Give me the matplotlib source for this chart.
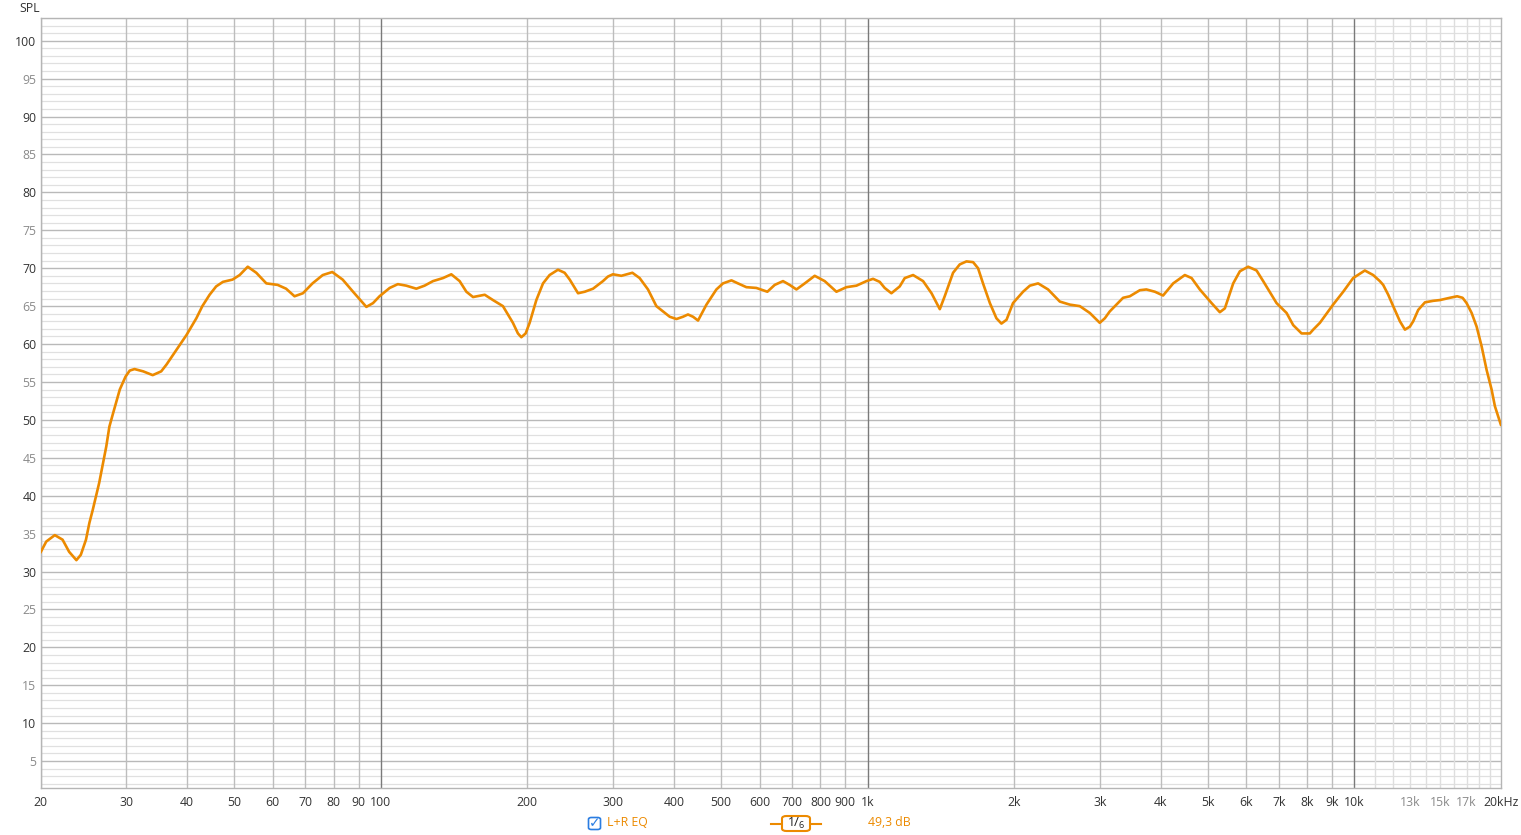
import numpy as np
import matplotlib
matplotlib.use("Agg")
import matplotlib.pyplot as plt
from matplotlib.patches import FancyBboxPatch
from matplotlib.lines import Line2D

plt.rcParams['font.family'] = ['Open Sans', 'DejaVu Sans']

# frequency response (Hz, dB SPL)
freq = [20, 20.55, 21.4, 22.2, 22.9, 23.7, 24.2, 24.8, 25.2, 25.6, 26.4, 27.3,
        27.7, 28.2, 29.1, 29.9, 30.5, 31.2, 32.5, 34.0, 35.4, 36.3, 38.0, 39.9,
        41.8, 43.0, 44.5, 45.9, 47.4, 49.6, 51.3, 53.3, 55.5, 58.2, 61.4, 63.9,
        66.5, 69.2, 72.4, 76.0, 79.5, 83.5, 87.7, 93.4, 96.4, 99.4,
        104.3, 108.4, 112.8, 118.3, 123.0, 128.0, 134.2, 139.6, 145.2, 149.9,
        154.7, 163.5, 170.0, 178.2, 186.8, 191.3, 194.4, 198.4, 202.2, 208.7,
        215.4, 222.2, 231.2, 238.6, 244.4, 254.2, 262.4, 272.9, 286.0, 292.8,
        299.8, 312.0, 324.6, 328.7, 340.2, 353.9, 368.2, 379.9, 392.2, 404.9,
        417.6, 427.6, 437.9, 448.4, 466.6, 489.1, 504.6, 525.2, 541.6, 563.6,
        590.7, 622.4, 644.4, 670.2, 691.6, 714.2, 742.8, 778.6, 816.3, 862.8,
        904.6, 948.6, 994.4, 1026, 1059, 1084, 1119, 1164, 1192, 1240, 1300,
        1353, 1407, 1440, 1498, 1546, 1596, 1647, 1686, 1726, 1783, 1839, 1883,
        1929, 1989, 2086, 2154, 2240, 2348, 2482, 2602, 2728, 2860, 2998, 3071,
        3143, 3348, 3456, 3624, 3738, 3891, 4045, 4243, 4483, 4629, 4812, 5088,
        5290, 5417, 5636, 5817, 6048, 6294, 6494, 6918, 7254, 7484, 7788, 8098,
        8228, 8493, 9040, 9483, 9938, 10504, 10926, 11276, 11456, 11733, 12010,
        12399, 12697, 12998, 13204, 13520, 13958, 14512, 14980, 15704, 16255,
        16678, 16996, 17406, 17822, 18248, 18682, 19130, 19432, 20000]
spl = [32.5, 33.95, 34.8, 34.2, 32.6, 31.5, 32.2, 34.2, 36.4, 38.1, 41.7, 46.5,
       49.1, 50.9, 54.0, 55.7, 56.5, 56.7, 56.4, 55.9, 56.4, 57.3, 59.2, 61.2,
       63.4, 65.0, 66.5, 67.6, 68.2, 68.5, 69.1, 70.2, 69.4, 68.0, 67.8, 67.3,
       66.3, 66.7, 68.0, 69.1, 69.5, 68.5, 66.9, 64.9, 65.4, 66.3,
       67.4, 67.9, 67.7, 67.3, 67.7, 68.3, 68.7, 69.2, 68.3, 66.9,
       66.2, 66.5, 65.8, 65.0, 62.8, 61.4, 60.9, 61.4, 62.8, 65.8,
       68.0, 69.1, 69.8, 69.4, 68.5, 66.7, 66.9, 67.3, 68.3, 68.9,
       69.2, 69.0, 69.3, 69.4, 68.7, 67.2, 65.0, 64.3, 63.6, 63.3,
       63.6, 63.9, 63.6, 63.1, 65.2, 67.2, 68.0, 68.4, 68.0, 67.5,
       67.4, 66.9, 67.8, 68.3, 67.8, 67.2, 68.0, 69.0, 68.3, 66.9,
       67.5, 67.7, 68.3, 68.6, 68.2, 67.4, 66.7, 67.6, 68.7, 69.1, 68.3,
       66.7, 64.6, 66.3, 69.4, 70.5, 70.9, 70.8, 70.0, 68.0, 65.4, 63.4, 62.7,
       63.2, 65.4, 66.9, 67.7, 68.0, 67.2, 65.6, 65.2, 65.0, 64.1, 62.8, 63.4,
       64.3, 66.1, 66.3, 67.1, 67.2, 66.9, 66.4, 68.0, 69.1, 68.7, 67.2, 65.4,
       64.2, 64.7, 68.0, 69.6, 70.2, 69.7, 68.3, 65.4, 64.1, 62.5, 61.4, 61.4,
       61.9, 62.8, 65.2, 66.9, 68.7, 69.7, 69.1, 68.3, 67.8, 66.5, 65.0,
       63.0, 61.9, 62.3, 63.0, 64.5, 65.5, 65.7, 65.8, 66.1, 66.3,
       66.1, 65.4, 64.1, 62.3, 59.7, 56.6, 54.0, 51.8, 49.3]

x_major = [20, 30, 40, 50, 60, 70, 80, 90, 100, 200, 300, 400, 500, 600, 700,
           800, 900, 1000, 2000, 3000, 4000, 5000, 6000, 7000, 8000, 9000, 10000]
x_labels = ['20', '30', '40', '50', '60', '70', '80', '90', '100', '200', '300',
            '400', '500', '600', '700', '800', '900', '1k', '2k', '3k', '4k',
            '5k', '6k', '7k', '8k', '9k', '10k']
x_light = [11000, 12000, 13000, 14000, 15000, 16000, 17000, 18000, 19000]
x_light_labels = {13000: '13k', 15000: '15k', 17000: '17k'}
decades = [100, 1000, 10000]

FS = 8.8
fig = plt.figure(figsize=(15.21, 8.35), dpi=100)
ax = fig.add_axes([40.5 / 1521, 47 / 835, 1460.5 / 1521, 770 / 835])
ax.set_xscale('log')
ax.set_xlim(20, 20000)
ax.set_ylim(1.45, 103.0)

# grid
for v in range(2, 104):
    if v % 5 == 0:
        ax.axhline(v, color='#b9b9b9', lw=1.0, zorder=1)
    else:
        ax.axhline(v, color='#e0e0e0', lw=0.9, zorder=0)
for f in x_major:
    c = '#7a7a7a' if f in decades else '#bdbdbd'
    ax.axvline(f, color=c, lw=1.0, zorder=1)
for f in x_light:
    ax.axvline(f, color='#dedede', lw=1.0, zorder=1)

ax.plot(freq, spl, color='#ec8a00', lw=1.9, zorder=3,
        solid_joinstyle='round', solid_capstyle='round')

for s in ax.spines.values():
    s.set_color('#b5b5b5')
    s.set_linewidth(1.0)

ax.tick_params(length=0, pad=6)
ax.xaxis.set_minor_locator(matplotlib.ticker.NullLocator())
ax.set_xticks(x_major + [20000])
ax.set_xticklabels(x_labels + [''], fontsize=FS, color='#333333')
for f, lab in x_light_labels.items():
    ax.text(f, -0.0105, lab, transform=ax.get_xaxis_transform(), ha='center',
            va='top', fontsize=FS, color='#8a8a8a')
ax.text(20000, -0.0105, '20kHz', transform=ax.get_xaxis_transform(), ha='center',
        va='top', fontsize=FS, color='#333333')

yt = list(range(5, 101, 5))
ax.set_yticks(yt)
ax.set_yticklabels([str(v) for v in yt], fontsize=FS)
for lab, v in zip(ax.get_yticklabels(), yt):
    lab.set_color('#333333' if v % 10 == 0 else '#8a8a8a')
ax.tick_params(axis='y', pad=3)

fig.text(19 / 1521, 1 - 8 / 835, 'SPL', fontsize=FS, color='#333333',
         ha='left', va='center')

# bottom legend strip
cb = FancyBboxPatch((588.5 / 1521, 1 - 829.5 / 835), 12 / 1521, 12 / 835,
                    boxstyle='round,pad=0,rounding_size=0.002',
                    transform=fig.transFigure, facecolor='white',
                    edgecolor='#2a7de1', lw=1.2)
fig.patches.append(cb)
fig.text(594.5 / 1521, 1 - 823 / 835, '✓', fontsize=10, color='#2a7de1',
         ha='center', va='center', family=['DejaVu Sans'])
fig.text(607 / 1521, 1 - 823 / 835, 'L+R EQ', fontsize=FS, color='#ec8a00',
         ha='left', va='center')
fig.lines.append(Line2D([771 / 1521, 821 / 1521], [1 - 824 / 835, 1 - 824 / 835],
                        transform=fig.transFigure, color='#ec8a00', lw=1.5,
                        zorder=2))
box = FancyBboxPatch((782 / 1521, 1 - 831 / 835), 28 / 1521, 15 / 835,
                     boxstyle='round,pad=0,rounding_size=0.003',
                     transform=fig.transFigure, facecolor='white',
                     edgecolor='#ec8a00', lw=1.5, zorder=3)
fig.patches.append(box)
fig.text(791 / 1521, 1 - 822 / 835, '1', fontsize=FS, color='#222222',
         ha='center', va='center', zorder=4)
fig.text(796 / 1521, 1 - 823 / 835, '/', fontsize=9.5, color='#222222',
         ha='center', va='center', zorder=4)
fig.text(801.5 / 1521, 1 - 826 / 835, '6', fontsize=6.5, color='#222222',
         ha='center', va='center', zorder=4)
fig.text(868 / 1521, 1 - 823 / 835, '49,3 dB', fontsize=FS, color='#ec8a00',
         ha='left', va='center')

fig.savefig('out.png', dpi=100, facecolor='white')
